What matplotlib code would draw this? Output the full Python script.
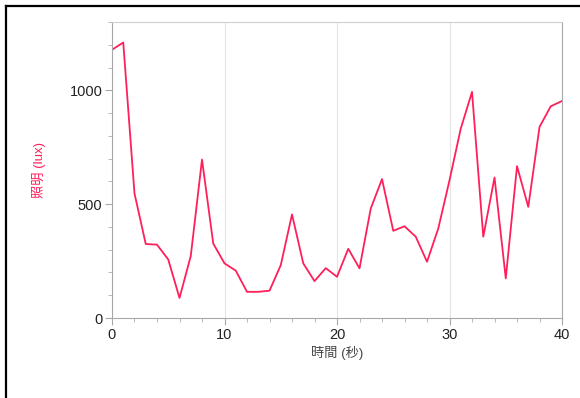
import matplotlib
matplotlib.use("Agg")
import matplotlib.pyplot as plt
from matplotlib.lines import Line2D
from matplotlib.ticker import MultipleLocator

# ==============================
# Data
# ==============================

seconds = list(range(0, 41))
lux = [1178, 1210, 547, 325, 322, 257, 88, 272, 696, 327,
       240, 208, 115, 115, 120, 232, 455, 240, 162, 219,
       181, 304, 218, 481, 610, 383, 403, 357, 247, 393,
       605, 832, 993, 357, 617, 174, 667, 488, 839, 930,
       953]

x_label = "時間 (秒)"
y_label = "照明 (lux)"

line_color = "#ff1f5a"
fonts = ["Liberation Sans", "Noto Sans CJK TC", "DejaVu Sans"]
plt.rcParams["font.family"] = fonts

# ==============================
# Figure
# ==============================

fig = plt.figure(figsize=(5.8, 3.98), dpi=100)
ax = fig.add_axes([0.1931, 0.201, 0.7759, 0.7437])

ax.plot(seconds, lux, color=line_color, linewidth=1.3)

ax.set_xlim(0, 40)
ax.set_ylim(0, 1300)
ax.xaxis.set_major_locator(MultipleLocator(10))
ax.xaxis.set_minor_locator(MultipleLocator(2))
ax.yaxis.set_major_locator(MultipleLocator(500))
ax.yaxis.set_minor_locator(MultipleLocator(100))

ax.grid(axis="x", which="major", color="#e4e4e4", linewidth=0.8)
ax.set_axisbelow(True)

for name, spine in ax.spines.items():
    spine.set_color("#cfcfcf" if name == "top" else "#a8a8a8")
    spine.set_linewidth(0.8)

ax.tick_params(which="major", length=5, width=0.8, color="#a8a8a8",
               labelsize=10.5, labelcolor="#222222", pad=2)
ax.tick_params(which="minor", length=3, width=0.7, color="#b8b8b8")

ax.set_xlabel(x_label, fontsize=9.5, color="#444444", labelpad=3)
ax.set_ylabel(y_label, fontsize=9.5, color=line_color, labelpad=17)

# black frame along the top and left edges
fig.add_artist(Line2D([6 / 580, 1], [1 - 6 / 398, 1 - 6 / 398],
                      transform=fig.transFigure, color="black", linewidth=1.6))
fig.add_artist(Line2D([6 / 580, 6 / 580], [0, 1 - 6 / 398],
                      transform=fig.transFigure, color="black", linewidth=1.6))

fig.savefig("out.png", dpi=100)
